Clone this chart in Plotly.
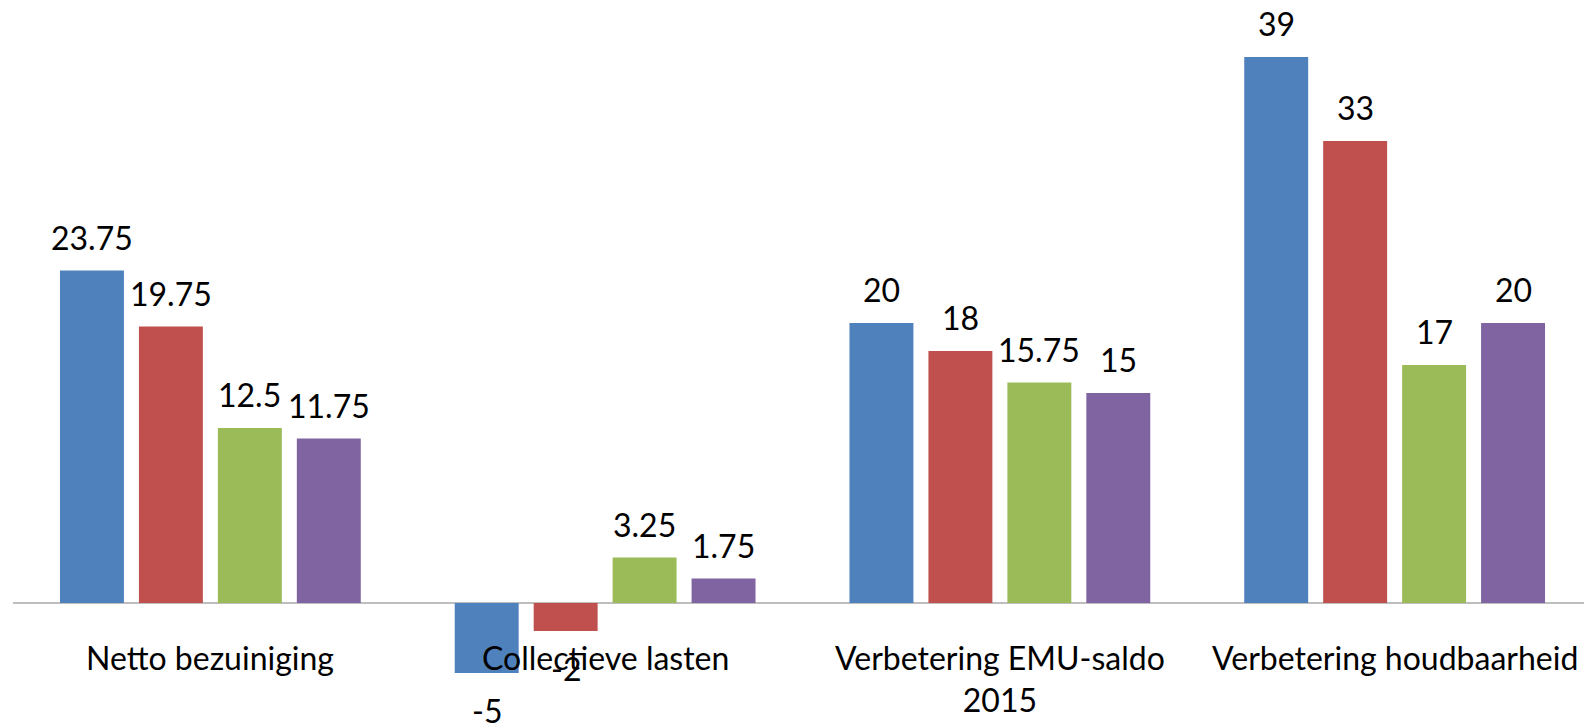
import plotly.graph_objects as go

# Categories and series values
categories = ["Netto bezuiniging", "Collectieve lasten", "Verbetering EMU-saldo 2015", "Verbetering houdbaarheid"]
category_labels = ["Netto bezuiniging", "Collectieve lasten", "Verbetering EMU-saldo<br>2015", "Verbetering houdbaarheid"]
series_names = ["Reeks 1", "Reeks 2", "Reeks 3", "Reeks 4"]
series_1 = [23.75, -5, 20, 39]
series_2 = [19.75, -2, 18, 33]
series_3 = [12.5, 3.25, 15.75, 17]
series_4 = [11.75, 1.75, 15, 20]
series_values = [series_1, series_2, series_3, series_4]
colors = ["#4F81BD", "#C0504D", "#9BBB59", "#8064A2"]

FONT = "Lato"
BARGAP = 0.2

fig = go.Figure()
for name, vals, col in zip(series_names, series_values, colors):
    fig.add_trace(go.Bar(x=categories, y=vals, name=name, marker=dict(color=col, line=dict(width=0)),
                         hoverinfo="x+y"))

# Data labels above / below each bar
n = len(series_values)
slot = (1 - BARGAP) / n
annotations = []
for j, vals in enumerate(series_values):
    for i, v in enumerate(vals):
        pos = v >= 0
        annotations.append(dict(
            x=i + (j - (n - 1) / 2) * slot, y=v, xref="x", yref="y",
            text=f"{v:g}", showarrow=False,
            yanchor="bottom" if pos else "top",
            yshift=12 if pos else -16,
            font=dict(family=FONT, size=32, color="black"),
        ))

# Category labels just under the zero line
for i, lab in enumerate(category_labels):
    annotations.append(dict(
        x=i, y=0, xref="x", yref="y", text=lab, showarrow=False,
        yanchor="top", yshift=-33,
        font=dict(family=FONT, size=32, color="black"),
    ))

# page body keeps an 8px margin, so the figure is sized to the visible area
fig.update_layout(
    width=1584, height=715,
    barmode="group", bargap=BARGAP, bargroupgap=0.19,
    plot_bgcolor="white", paper_bgcolor="white",
    margin=dict(l=5, r=0, t=0, b=0),
    showlegend=False,
    annotations=annotations,
    xaxis=dict(showticklabels=False, showgrid=False, zeroline=False, showline=False, ticks=""),
    yaxis=dict(range=[-8.57, 42.5], showticklabels=False, showgrid=False,
               zeroline=True, zerolinecolor="#BEBEBE", zerolinewidth=2),
)

fig.write_html("out.html")
